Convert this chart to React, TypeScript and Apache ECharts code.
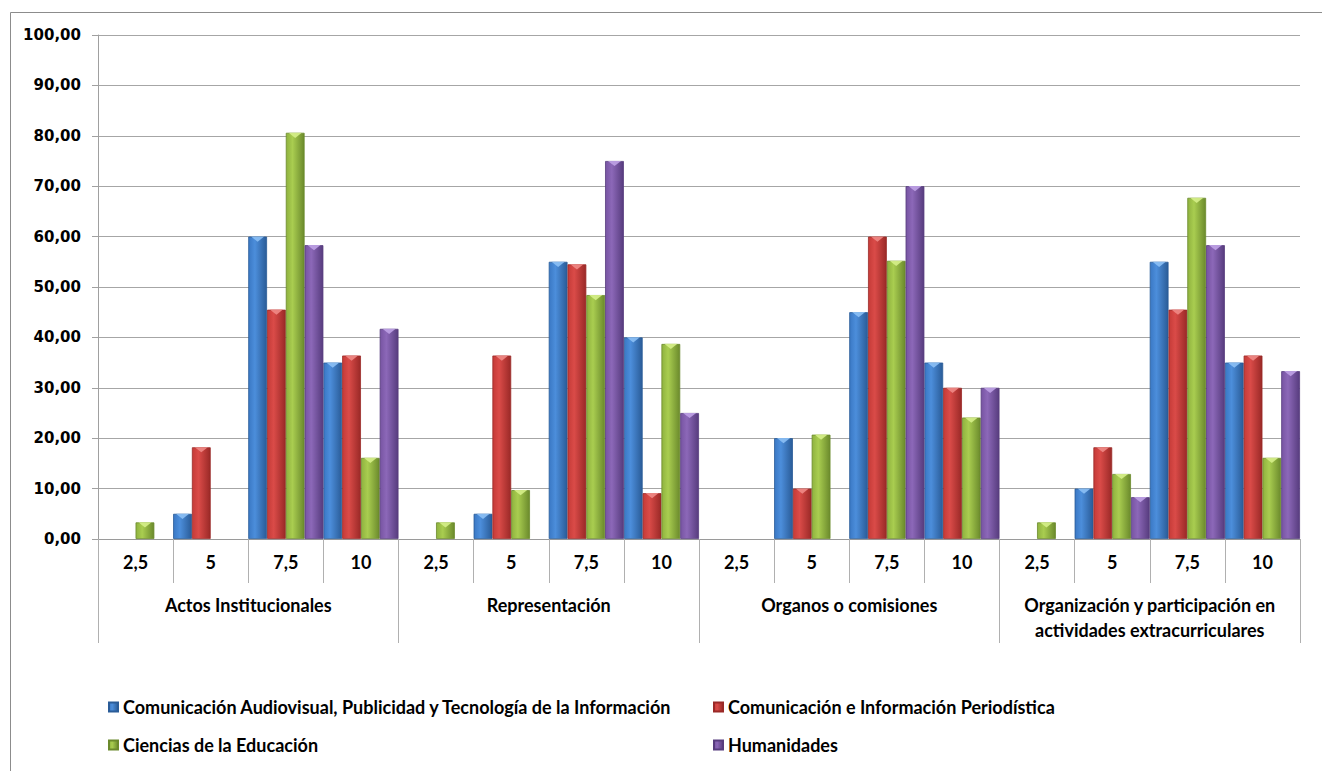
import React, { useEffect, useRef } from 'react';
import * as echarts from 'echarts';

const groups = [
  'Actos Institucionales',
  'Representación',
  'Organos o comisiones',
  'Organización y participación en\nactividades extracurriculares',
];
const levels = ['2,5', '5', '7,5', '10'];
const seriesNames = [
  'Comunicación Audiovisual, Publicidad y Tecnología de la Información',
  'Comunicación e Información Periodística',
  'Ciencias de la Educación',
  'Humanidades',
];
const audiovisual = [0, 5, 60, 35, 0, 5, 55, 40, 0, 20, 45, 35, 0, 10, 55, 35];
const periodistica = [0, 18.2, 45.5, 36.4, 0, 36.4, 54.5, 9.1, 0, 10, 60, 30, 0, 18.2, 45.5, 36.4];
const educacion = [3.3, 0, 80.6, 16.1, 3.3, 9.7, 48.4, 38.7, 0, 20.7, 55.2, 24.1, 3.3, 12.9, 67.7, 16.1];
const humanidades = [0, 0, 58.3, 41.7, 0, 0, 75, 25, 0, 0, 70, 30, 0, 8.3, 58.3, 33.3];
const yTicks = { min: 0, max: 100, interval: 10 };

const palette = [
  { light: '#4C8EDB', base: '#3A78C4', dark: '#2A5C98', top: '#8CC0F5' },
  { light: '#DA4B48', base: '#C53B38', dark: '#9A2927', top: '#F08A86' },
  { light: '#A9CD50', base: '#8FB23F', dark: '#6B8A2C', top: '#D6F08A' },
  { light: '#8C68B8', base: '#7754A2', dark: '#573C7E', top: '#BFA2E6' },
];

const FONT = 'Lato, "Liberation Sans", sans-serif';

export default function App() {
  const ref = useRef<HTMLDivElement>(null);
  useEffect(() => {
    if (!ref.current) return;
    const chart = echarts.init(ref.current, null, { renderer: 'svg' });
    const categories: string[] = [];
    groups.forEach(() => levels.forEach((l) => categories.push(l)));
    const all = [audiovisual, periodistica, educacion, humanidades];

    const bars: any[] = all.map((d, i) => ({
      type: 'bar',
      name: seriesNames[i],
      xAxisIndex: 0,
      yAxisIndex: 0,
      data: d.map((v) => (v === 0 ? null : v)),
      barGap: '0%',
      barCategoryGap: '0%',
      itemStyle: {
        color: new echarts.graphic.LinearGradient(0, 0, 1, 0, [
          { offset: 0, color: palette[i].base },
          { offset: 0.35, color: palette[i].light },
          { offset: 1, color: palette[i].dark },
        ]),
        borderColor: palette[i].dark,
        borderWidth: 0.8,
      },
    }));
    const tops: any[] = all.map((d, i) => ({
      type: 'pictorialBar',
      xAxisIndex: 0,
      yAxisIndex: 0,
      data: d.map((v) => (v === 0 ? null : v)),
      barGap: '0%',
      barCategoryGap: '0%',
      symbol: 'path://M0,0 L20,0 L10,5 Z',
      symbolSize: ['70%', 5],
      symbolPosition: 'end',
      silent: true,
      z: 3,
      itemStyle: { color: palette[i].top, opacity: 0.9 },
    }));

    const legendPos = [
      { left: 108, top: 697 },
      { left: 713, top: 697 },
      { left: 108, top: 735 },
      { left: 713, top: 735 },
    ];

    chart.setOption({
      animation: false,
      backgroundColor: '#ffffff',
      grid: { left: 98, right: 22, top: 35, bottom: 232, containLabel: false },
      graphic: [
        {
          type: 'rect',
          shape: { x: 10.5, y: 12.5, width: 1400, height: 900 },
          style: { fill: 'none', stroke: '#8c8c8c', lineWidth: 1 },
          silent: true,
        },
      ],
      legend: legendPos.map((p, i) => ({
        data: [seriesNames[i]],
        left: p.left,
        top: p.top,
        padding: 0,
        icon: 'rect',
        itemWidth: 9,
        itemHeight: 9,
        itemGap: 0,
        textStyle: {
          fontFamily: FONT,
          fontWeight: 'bold',
          fontSize: 18,
          lineHeight: 20,
          color: '#000',
        },
        selectedMode: false,
      })),
      xAxis: [
        {
          type: 'category',
          data: categories,
          position: 'bottom',
          axisLine: { show: true, lineStyle: { color: '#9a9a9a', width: 1 } },
          axisTick: { show: true, interval: 0, length: 44, lineStyle: { color: '#b0b0b0' } },
          axisLabel: {
            interval: 0,
            margin: 14,
            fontFamily: FONT,
            fontWeight: 'bold',
            fontSize: 18,
            lineHeight: 18,
            color: '#000',
          },
          splitLine: { show: false },
        },
        {
          type: 'category',
          data: groups,
          position: 'bottom',
          axisLine: { show: false },
          axisTick: { show: true, interval: 0, length: 104, lineStyle: { color: '#b0b0b0' } },
          axisLabel: {
            interval: 0,
            margin: 53,
            fontFamily: FONT,
            fontWeight: 'bold',
            fontSize: 18,
            lineHeight: 25,
            color: '#000',
          },
          splitLine: { show: false },
        },
      ],
      yAxis: {
        type: 'value',
        min: yTicks.min,
        max: yTicks.max,
        interval: yTicks.interval,
        axisLine: { show: true, lineStyle: { color: '#a0a0a0' } },
        axisTick: { show: true, length: 6, lineStyle: { color: '#a0a0a0' } },
        axisLabel: {
          margin: 17,
          fontFamily: '"DejaVu Sans", sans-serif',
          fontWeight: 'bold',
          fontSize: 15,
          color: '#000',
          formatter: (v: number) => v.toFixed(2).replace('.', ','),
        },
        splitLine: { show: true, lineStyle: { color: '#a6a6a6', width: 1 } },
      },
      series: [...bars, ...tops],
    });
    return () => chart.dispose();
  }, []);
  return (
    <div
      ref={ref}
      style={{ position: 'absolute', left: 0, top: 0, width: 1322, height: 771 }}
    />
  );
}
